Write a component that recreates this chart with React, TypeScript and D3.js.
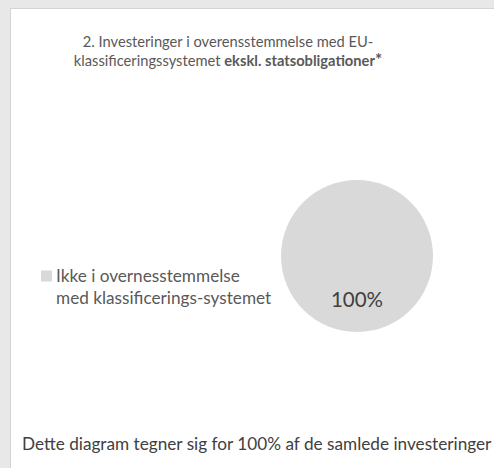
import React, { useEffect, useRef } from "react";
import * as d3 from "d3";

const categories = ["Ikke i overnesstemmelse med klassificerings-systemet"];
const legendLines = ["Ikke i overnesstemmelse", "med klassificerings-systemet"];
const values = [100];
const valueLabels = ["100%"];
const titleLine1 = "2. Investeringer i overensstemmelse med EU-";
const titleLine2Normal = "klassificeringssystemet ";
const titleLine2Bold = "ekskl. statsobligationer";
const footnote = "Dette diagram tegner sig for 100% af de samlede investeringer";

const W = 494;
const H = 468;

export default function App() {
  const ref = useRef<SVGSVGElement | null>(null);

  useEffect(() => {
    const svg = d3.select(ref.current);
    svg.selectAll("*").remove();
    const font = "Lato, 'Open Sans', sans-serif";
    const textColor = "#595959";

    svg.append("rect").attr("x", 0).attr("y", 0).attr("width", W).attr("height", H).attr("fill", "#e8e8e8");
    svg.append("rect").attr("x", 10.5).attr("y", 8.5).attr("width", W).attr("height", H)
      .attr("fill", "#ffffff").attr("stroke", "#d4d4d4").attr("stroke-width", 1);

    // title
    const t = svg.append("text").attr("font-family", font).attr("font-size", 14.7).attr("fill", textColor)
      .attr("text-anchor", "middle");
    t.append("tspan").attr("x", 228).attr("y", 46.5).text(titleLine1);
    const l2 = t.append("tspan").attr("x", 228).attr("y", 66);
    l2.append("tspan").text(titleLine2Normal);
    l2.append("tspan").attr("font-weight", "bold").text(titleLine2Bold);
    l2.append("tspan").attr("font-weight", "bold").attr("font-size", 17).text("*");

    // pie
    const cx = 357, cy = 256, r = 76;
    const pie = d3.pie<number>().sort(null).value((d) => d);
    const arcs = pie(values);
    const arc = d3.arc<d3.PieArcDatum<number>>().innerRadius(0).outerRadius(r);
    const labelArc = d3.arc<d3.PieArcDatum<number>>().innerRadius(r * 0.58).outerRadius(r * 0.58);
    const color = d3.scaleOrdinal<string, string>().domain(categories).range(["#d9d9d9"]);
    const g = svg.append("g").attr("transform", `translate(${cx},${cy})`);
    g.selectAll("path").data(arcs).enter().append("path")
      .attr("d", arc as any).attr("fill", (_d, i) => color(categories[i]));
    g.selectAll("text").data(arcs).enter().append("text")
      .attr("transform", (d) => {
        const [x, y] = labelArc.centroid(d);
        return `translate(${x},${y})`;
      })
      .attr("text-anchor", "middle").attr("dy", "0.35em")
      .attr("font-family", font).attr("font-size", 20.5).attr("fill", "#404040")
      .text((_d, i) => valueLabels[i]);

    // legend
    const lg = svg.append("g");
    lg.append("rect").attr("x", 41).attr("y", 270.5).attr("width", 11).attr("height", 11)
      .attr("fill", color(categories[0]));
    const lt = lg.append("text").attr("font-family", font).attr("font-size", 17.2).attr("fill", textColor);
    legendLines.forEach((line, i) => {
      lt.append("tspan").attr("x", 56).attr("y", 282 + i * 22).text(line);
    });

    // footnote
    svg.append("text").attr("x", 22).attr("y", 450).attr("font-family", font).attr("font-size", 17.2)
      .attr("fill", "#404040").text(footnote);
  }, []);

  return (
    <svg ref={ref} width={W} height={H}
      style={{ position: "fixed", left: 0, top: 0, display: "block" }} />
  );
}
